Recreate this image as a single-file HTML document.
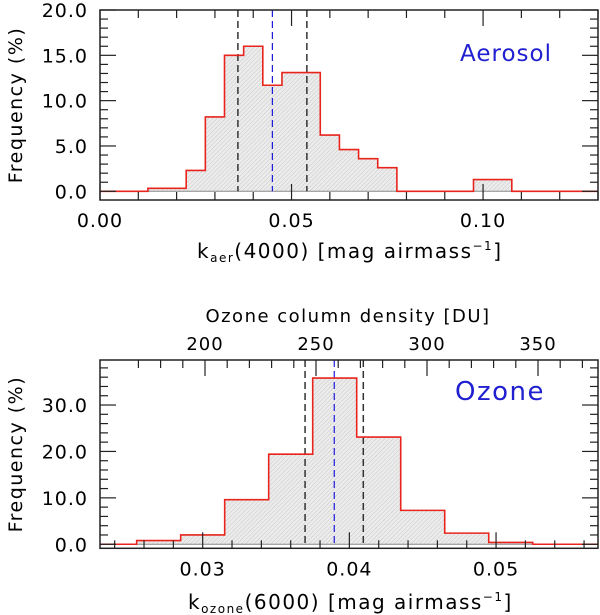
<!DOCTYPE html>
<html><head><meta charset="utf-8"><style>
body{margin:0;background:#fff;}
svg{display:block;font-family:"DejaVu Sans","Liberation Sans",sans-serif;}
</style></head><body>
<svg id="c" width="600" height="615" xmlns="http://www.w3.org/2000/svg">
<defs><pattern id="hatch" width="3" height="3" patternUnits="userSpaceOnUse" patternTransform="rotate(45)"><rect width="3" height="3" fill="#ececec"/><line x1="0" y1="0" x2="0" y2="3" stroke="#c8c8c8" stroke-width="1"/></pattern></defs>
</svg>
<script>
const aerEdges=[0.0125,0.0175,0.0225,0.0275,0.0325,0.0375,0.0425,0.0475,0.0525,0.0575,0.0625,0.0675,0.0725,0.0775,0.0825,0.0875,0.0925,0.0975,0.1025,0.1075];
const aerValues=[0.33,0.33,2.3,8.2,15.0,16.0,11.7,13.1,13.1,6.2,4.6,3.6,2.6,0,0,0,0,1.3,1.3];
const aerLines=[0.036,0.054];
const aerMedian=0.045;
const aerXTicks=["0.00","0.05","0.10"];
const aerYTicks=["0.0","5.0","10.0","15.0","20.0"];
const ozEdges=[0.0255,0.0285,0.0315,0.0345,0.0375,0.0405,0.0435,0.0465,0.0495,0.0525];
const ozValues=[0.8,2.0,9.6,19.4,35.8,23.1,7.3,2.4,0.4];
const ozLines=[0.03698,0.04095];
const ozMedian=0.03897;
const ozXTicks=["0.03","0.04","0.05"];
const ozYTicks=["0.0","10.0","20.0","30.0"];
const duTicks=["200","250","300","350"];

const svg=document.getElementById('c');
const NS='http://www.w3.org/2000/svg';
function mk(tag,attrs,name,parent){const e=document.createElementNS(NS,tag);for(const k in attrs)e.setAttribute(k,attrs[k]);


(parent||svg).appendChild(e);return e;}
function txt(x,y,s,size,name,anchor,fill,ls){const t=mk('text',{x:x,y:y,'font-size':size,'text-anchor':anchor||'middle',fill:fill||'#000','letter-spacing':ls||0},name);t.textContent=s;return t;}

function panel(o){
  const X=v=>o.L+(v-o.x0)/(o.x1-o.x0)*(o.R-o.L);
  const Y=v=>o.B-(v-o.y0)/(o.y1-o.y0)*(o.B-o.T);
  const g=mk('g',{},o.name);
  let d='M'+o.L+','+Y(0);
  let f='';
  for(let i=0;i<o.values.length;i++){
    const xa=X(o.edges[i]),xb=X(o.edges[i+1]),y=Y(o.values[i]);
    d+=' L'+xa+','+Y(i==0?0:o.values[i-1])+' L'+xa+','+y+' L'+xb+','+y;
    f+=(f?' ':'')+'M'+xa+','+Y(0)+' L'+xa+','+y+' L'+xb+','+y+' L'+xb+','+Y(0)+'Z';
  }
  const last=o.edges[o.values.length];
  d+=' L'+X(last)+','+Y(0)+' L'+o.R+','+Y(0);
  mk('path',{d:f,fill:'url(#hatch)',stroke:'none'},'histogram-fill',g);
  mk('line',{x1:o.L,x2:o.R,y1:Y(0),y2:Y(0),stroke:'#888','stroke-width':1},'zero-line',g);
  o.lines.forEach(v=>mk('line',{x1:X(v),x2:X(v),y1:o.T,y2:Y(0),stroke:'#333','stroke-width':1.5,'stroke-dasharray':'7,4'},'quartile-line',g));
  mk('line',{x1:X(o.median),x2:X(o.median),y1:o.T,y2:Y(0),stroke:'#1a1adc','stroke-width':1.2,'stroke-dasharray':'7,4'},'median-line',g);
  mk('path',{d:d,fill:'none',stroke:'#e8241c','stroke-width':1.6},'histogram-outline',g);
  mk('rect',{x:o.L,y:o.T,width:o.R-o.L,height:o.B-o.T,fill:'none',stroke:'#222','stroke-width':1.5},'plot-frame',g);
  for(let v=Math.ceil(o.x0/o.xmin-1e-6)*o.xmin;v<=o.x1+1e-9;v+=o.xmin){
    const maj=Math.abs(v/o.xmaj-Math.round(v/o.xmaj))<1e-4;const l=maj?16:8;
    mk('line',{x1:X(v),x2:X(v),y1:o.B,y2:o.B-l,stroke:'#222','stroke-width':1.2},'x-tick',g);
    if(!o.topAxis) mk('line',{x1:X(v),x2:X(v),y1:o.T,y2:o.T+l,stroke:'#222','stroke-width':1.2},'x-tick-top',g);
  }
  o.xticks.forEach(s=>txt(X(parseFloat(s)),o.B+27,s,19,'x-tick-label','middle','#000',1));
  for(let v=o.ymin*Math.ceil(o.y0/o.ymin);v<=o.y1+1e-9;v+=o.ymin){
    const maj=Math.abs(v/o.ymaj-Math.round(v/o.ymaj))<1e-4;const l=maj?16:8;
    mk('line',{x1:o.L,x2:o.L+l,y1:Y(v),y2:Y(v),stroke:'#222','stroke-width':1.2},'y-tick',g);
    mk('line',{x1:o.R,x2:o.R-l,y1:Y(v),y2:Y(v),stroke:'#222','stroke-width':1.2},'y-tick-right',g);
  }
  o.yticks.forEach(s=>txt(o.L-12,Y(parseFloat(s))+7,s,19,'y-tick-label','end','#000',1));
  const yt=txt(0,0,'Frequency (%)',19,'y-axis-title','middle','#000',1.5);yt.setAttribute('transform','translate(22,'+((o.T+o.B)/2)+') rotate(-90)');
  return {X,Y};
}
panel({name:'aerosol-panel',L:100,R:598,T:10,B:200,x0:0,x1:0.13,y0:-0.96,y1:20,edges:aerEdges,values:aerValues,lines:aerLines,median:aerMedian,xmin:0.01,xmaj:0.05,ymin:1,ymaj:5,xticks:aerXTicks,yticks:aerYTicks});
const t1=txt(197,258,'',20,'x-axis-title','start','#000',1.5);
t1.innerHTML='k<tspan font-size="12" dy="4">aer</tspan><tspan dy="-4">(4000) [mag airmass</tspan><tspan font-size="12" dy="-8">−1</tspan><tspan dy="8">]</tspan>';
txt(506,61,'Aerosol',23,'aerosol-label','middle','#2020d0',1);

const p2=panel({name:'ozone-panel',L:100,R:598,T:360,B:548.3,x0:0.023,x1:0.05695,y0:-0.87,y1:39.7,edges:ozEdges,values:ozValues,lines:ozLines,median:ozMedian,xmin:0.002,xmaj:0.01,ymin:2,ymaj:10,xticks:ozXTicks,yticks:ozYTicks,topAxis:true});
const DU=v=>316+(v-250)/50*111;
for(let v=170;v<=370;v+=10){const maj=v%50==0;mk('line',{x1:DU(v),x2:DU(v),y1:360,y2:360+(maj?16:8),stroke:'#222','stroke-width':1.2},'du-tick');}
duTicks.forEach(s=>txt(DU(parseFloat(s)),350,s,18,'du-tick-label','middle','#000',1));
txt(348,322,'Ozone column density [DU]',18,'top-axis-title','middle','#000',1.5);
const t2=txt(188,609,'',20,'x-axis-title','start','#000',1.5);
t2.innerHTML='k<tspan font-size="12" dy="4">ozone</tspan><tspan dy="-4">(6000) [mag airmass</tspan><tspan font-size="12" dy="-8">−1</tspan><tspan dy="8">]</tspan>';
txt(500,400,'Ozone',26,'ozone-label','middle','#2020d0',1.5);
</script>
</body></html>
